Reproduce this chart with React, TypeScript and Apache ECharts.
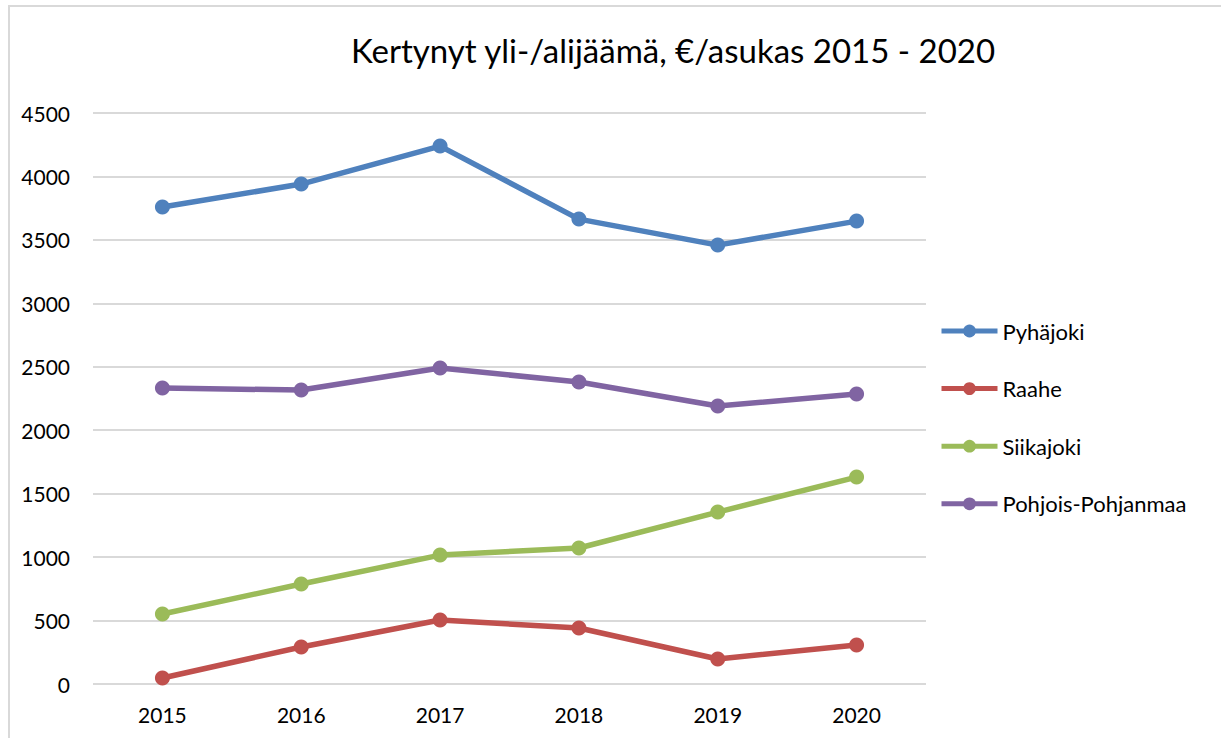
import React, { useEffect, useRef } from "react";
import * as echarts from "echarts";

const years = ["2015", "2016", "2017", "2018", "2019", "2020"];
const pyhajoki = [3759, 3940, 4239, 3664, 3459, 3648];
const raahe = [47, 292, 504, 441, 197, 307];
const siikajoki = [552, 788, 1016, 1072, 1355, 1631];
const pohjoisPohjanmaa = [2332, 2317, 2490, 2380, 2191, 2285];

const seriesNames = ["Pyhäjoki", "Raahe", "Siikajoki", "Pohjois-Pohjanmaa"];
const seriesData = [pyhajoki, raahe, siikajoki, pohjoisPohjanmaa];
const colors = ["#4F81BD", "#C0504D", "#9BBB59", "#8064A2"];

const FONT = "Lato, 'Open Sans', sans-serif";

export default function App() {
  const ref = useRef<HTMLDivElement>(null);
  useEffect(() => {
    document.body.style.margin = "0";
    const chart = echarts.init(ref.current!, null, { renderer: "svg" });
    chart.setOption({
      animation: false,
      backgroundColor: "#ffffff",
      title: {
        text: "Kertynyt yli-/alijäämä, €/asukas 2015 - 2020",
        left: 668,
        textAlign: "center",
        top: 28,
        textStyle: { fontFamily: FONT, fontSize: 33, fontWeight: "normal", color: "#000" },
      },
      legend: {
        orient: "vertical",
        left: 939,
        top: 320,
        padding: 0,
        itemWidth: 56,
        itemHeight: 16,
        itemGap: 35.6,
        data: seriesNames,
        lineStyle: { width: 5 },
        textStyle: { fontFamily: FONT, fontSize: 22, color: "#000", lineHeight: 20 },
      },
      grid: { left: 93, right: 1221 - 926, top: 113, bottom: 738 - 684, containLabel: false },
      xAxis: {
        type: "category",
        data: years,
        boundaryGap: true,
        axisLine: { show: false },
        axisTick: { show: false },
        axisLabel: { fontFamily: FONT, fontSize: 21, color: "#000", margin: 20 },
      },
      yAxis: {
        type: "value",
        min: 0,
        max: 4500,
        interval: 500,
        axisLine: { show: false },
        axisTick: { show: false },
        axisLabel: {
          fontFamily: FONT,
          fontSize: 21,
          color: "#000",
          margin: 23,
          formatter: (v: number) => String(v),
        },
        splitLine: { lineStyle: { color: "#D9D9D9", width: 2 } },
      },
      series: seriesNames.map((name, i) => ({
        name,
        type: "line",
        data: seriesData[i],
        color: colors[i],
        symbol: "circle",
        symbolSize: 15,
        lineStyle: { width: 5.5, color: colors[i] },
        itemStyle: { color: colors[i] },
      })),
    });
    return () => chart.dispose();
  }, []);
  return (
    <div style={{ position: "relative", width: 1221, height: 738 }}>
      <div
        style={{
          position: "absolute",
          left: 8,
          top: 5,
          width: 1240,
          height: 760,
          border: "2px solid #D9D9D9",
          boxSizing: "border-box",
          pointerEvents: "none",
          zIndex: 2,
        }}
      />
      <div ref={ref} style={{ position: "absolute", left: 0, top: 0, width: 1221, height: 738 }} />
    </div>
  );
}
